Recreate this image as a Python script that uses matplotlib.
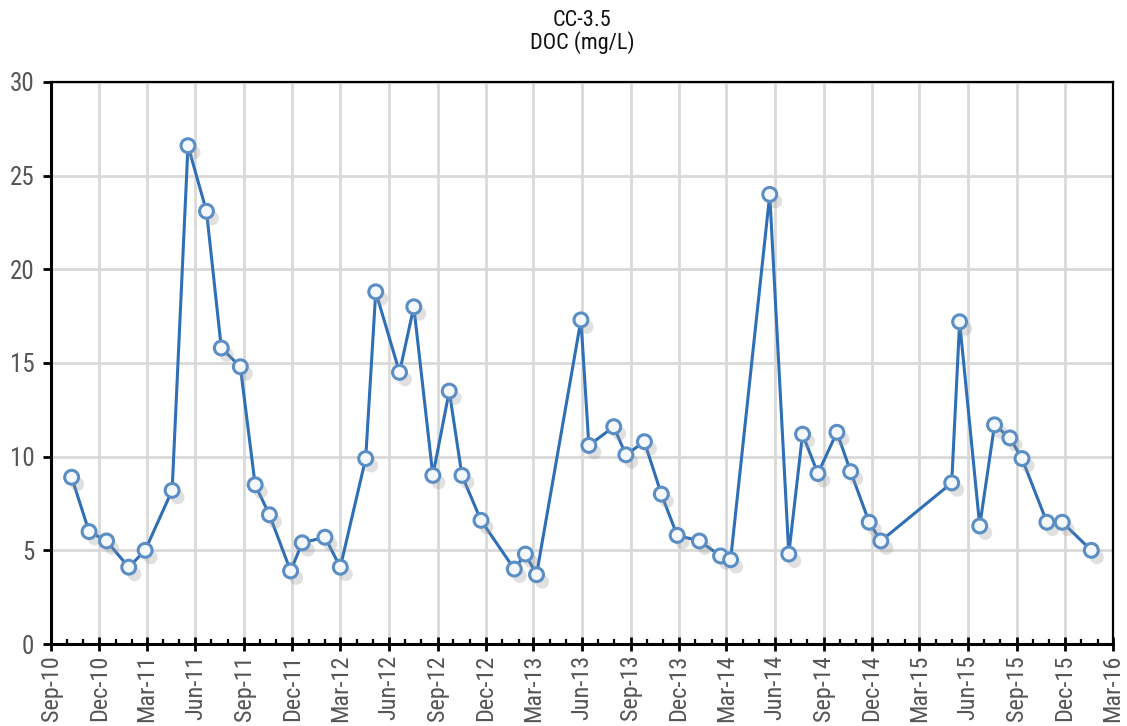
import matplotlib
matplotlib.use("Agg")
import matplotlib.pyplot as plt
import matplotlib.dates as mdates
import matplotlib.patheffects as pe
import pandas as pd
from datetime import datetime

dates = ["2010-10-10", "2010-11-12", "2010-12-15", "2011-01-26", "2011-02-26",
         "2011-04-18", "2011-05-18", "2011-06-22", "2011-07-20", "2011-08-25",
         "2011-09-22", "2011-10-19", "2011-11-28", "2011-12-20", "2012-02-01",
         "2012-03-01", "2012-04-18", "2012-05-07", "2012-06-21", "2012-07-18",
         "2012-08-23", "2012-09-23", "2012-10-17", "2012-11-22", "2013-01-24",
         "2013-02-14", "2013-03-07", "2013-05-30", "2013-06-14", "2013-07-31",
         "2013-08-23", "2013-09-27", "2013-10-29", "2013-11-28", "2014-01-09",
         "2014-02-18", "2014-03-09", "2014-05-22", "2014-06-27", "2014-07-23",
         "2014-08-21", "2014-09-26", "2014-10-22", "2014-11-26", "2014-12-18",
         "2015-05-01", "2015-05-16", "2015-06-23", "2015-07-21", "2015-08-19",
         "2015-09-11", "2015-10-28", "2015-11-26", "2016-01-20"]
doc = [8.9, 6.0, 5.5, 4.1, 5.0,
       8.2, 26.6, 23.1, 15.8, 14.8,
       8.5, 6.9, 3.9, 5.4, 5.7,
       4.1, 9.9, 18.8, 14.5, 18.0,
       9.0, 13.5, 9.0, 6.6, 4.0,
       4.8, 3.7, 17.3, 10.6, 11.6,
       10.1, 10.8, 8.0, 5.8, 5.5,
       4.7, 4.5, 24.0, 4.8, 11.2,
       9.1, 11.3, 9.2, 6.5, 5.5,
       8.6, 17.2, 6.3, 11.7, 11.0,
       9.9, 6.5, 6.5, 5.0]
title_lines = ["CC-3.5", "DOC (mg/L)"]
y_ticks = [0, 5, 10, 15, 20, 25, 30]

x = pd.to_datetime(dates)

plt.rcParams['font.family'] = ['Roboto Condensed', 'DejaVu Sans Condensed', 'Roboto', 'DejaVu Sans']
plt.rcParams['font.stretch'] = 'condensed'

fig = plt.figure(figsize=(11.27, 7.26), dpi=100)
ax = fig.add_axes([51/1127, 82/726, (1113-51)/1127, (644-82)/726])

ax.plot(x, doc, color='#2e6fb5', lw=2.2, zorder=3)
ax.plot(x, doc, ls='none', marker='o', ms=10, mfc='#f4f8fc', mec='#5b8ec4',
        mew=2.2, zorder=4,
        path_effects=[pe.SimplePatchShadow(offset=(4, -5), shadow_rgbFace='#999999', alpha=0.3), pe.Normal()])

ax.set_xlim(datetime(2010, 9, 1), datetime(2016, 3, 1))
ax.set_ylim(0, 30)
ax.set_yticks(y_ticks)
ax.xaxis.set_major_locator(mdates.MonthLocator(bymonth=[3, 6, 9, 12]))
ax.xaxis.set_minor_locator(mdates.MonthLocator())
ax.xaxis.set_major_formatter(mdates.DateFormatter('%b-%y'))

ax.grid(True, which='major', color='#d9d9d9', lw=2, zorder=0)
ax.set_axisbelow(True)

for s in ['left', 'bottom']:
    ax.spines[s].set_linewidth(2.2)
for s in ['top', 'right']:
    ax.spines[s].set_linewidth(1.6)
for s in ax.spines.values():
    s.set_color('black')

ax.tick_params(axis='y', which='major', direction='out', length=6, width=2,
               labelsize=18, labelcolor='#555555', pad=6)
ax.tick_params(axis='x', which='major', direction='inout', length=9.5, width=2,
               labelsize=17.5, labelcolor='#555555', pad=3, labelrotation=90)
ax.tick_params(axis='x', which='minor', direction='in', length=3.6, width=1.6)

fig.text((51+1113)/2/1127, 1-26/726, title_lines[0], ha='center', va='baseline',
         fontsize=16, color='#111111')
fig.text((51+1113)/2/1127, 1-49/726, title_lines[1], ha='center', va='baseline',
         fontsize=16, color='#111111')

fig.savefig('out.png', dpi=100)
